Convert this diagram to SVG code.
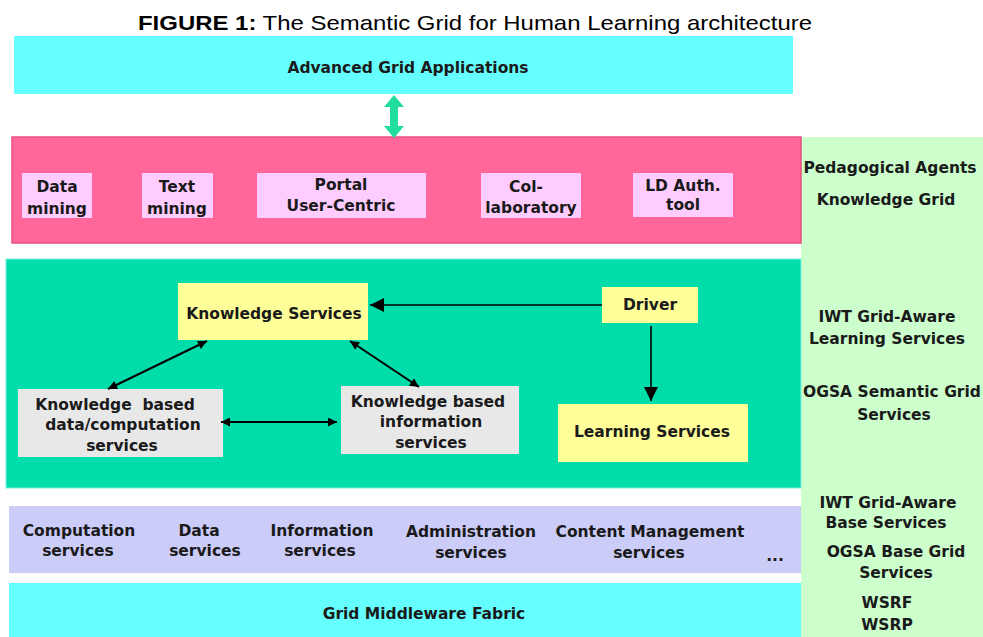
<svg xmlns="http://www.w3.org/2000/svg" width="983" height="637" viewBox="0 0 983 637">
<style>
.t{font-family:"DejaVu Sans",Verdana,sans-serif;font-weight:bold;font-size:15.5px;fill:#1a1a1a;text-anchor:middle}
.ttl{font-family:"Liberation Sans",Arial,sans-serif;font-size:21px;fill:#000}
.ln{stroke:#000;stroke-width:2;fill:none}
.ln2{stroke:#000;stroke-width:1.6;fill:none}
</style>
<defs>
<marker id="ah" viewBox="0 0 10 10" refX="10" refY="5" markerWidth="11" markerHeight="9" markerUnits="userSpaceOnUse" orient="auto-start-reverse">
<path d="M0,0 L10,5 L0,10 z" fill="#000"/>
</marker>
<marker id="ahb" viewBox="0 0 10 10" refX="10" refY="5" markerWidth="20" markerHeight="14" markerUnits="userSpaceOnUse" orient="auto">
<path d="M0,0 L10,5 L0,10 z" fill="#000"/>
</marker>
</defs>
<rect width="983" height="637" fill="#fff"/>
<text class="ttl" x="138" y="30" textLength="674" lengthAdjust="spacingAndGlyphs"><tspan font-weight="bold">FIGURE 1:</tspan> The Semantic Grid for Human Learning architecture</text>

<g id="layers">
<rect id="right-panel" x="801" y="137" width="182" height="500" fill="#CCFFCC"/>
</g>

<g id="advanced-grid-apps">
<rect x="14" y="36" width="779" height="58" fill="#66FFFF"/>
<text class="t" x="408" y="73">Advanced Grid Applications</text>
</g>

<g id="knowledge-grid-layer">
<rect x="12" y="137" width="789" height="106" fill="#FF6699" stroke="#E8507F" stroke-width="1.5"/>
</g>
<g id="data-mining">
<rect x="22" y="173" width="70" height="45" fill="#FFCCFF"/>
<text class="t" x="57" y="192">Data</text><text class="t" x="57" y="214">mining</text>
</g>
<g id="text-mining">
<rect x="142" y="173" width="71" height="45" fill="#FFCCFF"/>
<text class="t" x="177" y="192">Text</text><text class="t" x="177" y="214">mining</text>
</g>
<g id="portal">
<rect x="257" y="173" width="169" height="45" fill="#FFCCFF"/>
<text class="t" x="341" y="190">Portal</text><text class="t" x="341" y="211">User-Centric</text>
</g>
<g id="collaboratory">
<rect x="481" y="173" width="100" height="45" fill="#FFCCFF"/>
<text class="t" x="526" y="192">Col-</text><text class="t" x="531" y="213">laboratory</text>
</g>
<g id="ld-auth">
<rect x="633" y="173" width="100" height="44" fill="#FFCCFF"/>
<text class="t" x="683" y="191">LD Auth.</text><text class="t" x="683" y="210">tool</text>
</g>

<g id="semantic-layer">
<rect x="6" y="259" width="795" height="229" fill="#00DDAA" stroke="#7FF0E0" stroke-width="1"/>
</g>
<g id="knowledge-services">
<rect x="178" y="283" width="190" height="57" fill="#FFFF99"/>
<text class="t" x="274" y="319">Knowledge Services</text>
</g>
<g id="kb-data">
<rect x="18" y="389" width="205" height="68" fill="#E8E8E8"/>
<text class="t" x="115" y="410" xml:space="preserve">Knowledge  based</text>
<text class="t" x="123" y="430">data/computation</text>
<text class="t" x="122" y="451">services</text>
</g>
<g id="kb-info">
<rect x="341" y="386" width="178" height="68" fill="#E8E8E8"/>
<text class="t" x="428" y="407">Knowledge based</text>
<text class="t" x="431" y="427">information</text>
<text class="t" x="431" y="448">services</text>
</g>
<g id="driver">
<rect x="602" y="287" width="96" height="36" fill="#FFFF99"/>
<text class="t" x="650" y="310">Driver</text>
</g>
<g id="learning-services">
<rect x="558" y="404" width="190" height="58" fill="#FFFF99"/>
<text class="t" x="652" y="437">Learning Services</text>
</g>

<g id="base-services-layer">
<rect x="9" y="506" width="792" height="67" fill="#CCCCF8"/>
<text class="t" x="79" y="536">Computation</text><text class="t" x="78" y="556">services</text>
<text class="t" x="199" y="536">Data</text><text class="t" x="205" y="556">services</text>
<text class="t" x="322" y="536">Information</text><text class="t" x="320" y="556">services</text>
<text class="t" x="471" y="537">Administration</text><text class="t" x="471" y="558">services</text>
<text class="t" x="650" y="537">Content Management</text><text class="t" x="649" y="558">services</text>
<text class="t" x="775" y="561">...</text>
</g>

<g id="middleware">
<rect x="9" y="583" width="792" height="54" fill="#66FFFF"/>
<text class="t" x="424" y="619">Grid Middleware Fabric</text>
</g>

<g id="right-labels">
<text class="t" x="890" y="173">Pedagogical Agents</text>
<text class="t" x="886" y="205">Knowledge Grid</text>
<text class="t" x="887" y="322">IWT Grid-Aware</text>
<text class="t" x="887" y="344">Learning Services</text>
<text class="t" x="892" y="397">OGSA Semantic Grid</text>
<text class="t" x="894" y="420">Services</text>
<text class="t" x="888" y="508">IWT Grid-Aware</text>
<text class="t" x="886" y="528">Base Services</text>
<text class="t" x="896" y="557">OGSA Base Grid</text>
<text class="t" x="896" y="578">Services</text>
<text class="t" x="887" y="608">WSRF</text>
<text class="t" x="887" y="630">WSRP</text>
</g>

<g id="connectors">
<polygon points="394,95 404,107 398,107 398,126 404,126 394,138 384,126 390,126 390,107 384,107" fill="#22DDA0"/>
<line class="ln2" x1="602" y1="305" x2="370" y2="305" marker-end="url(#ahb)"/>
<line class="ln2" x1="651" y1="326" x2="651" y2="401" marker-end="url(#ahb)"/>
<line class="ln" x1="207" y1="341" x2="108" y2="389" marker-start="url(#ah)" marker-end="url(#ah)"/>
<line class="ln" x1="350" y1="341" x2="419" y2="387" marker-start="url(#ah)" marker-end="url(#ah)"/>
<line class="ln" x1="221" y1="422" x2="337" y2="422" marker-start="url(#ah)" marker-end="url(#ah)"/>
</g>
</svg>
